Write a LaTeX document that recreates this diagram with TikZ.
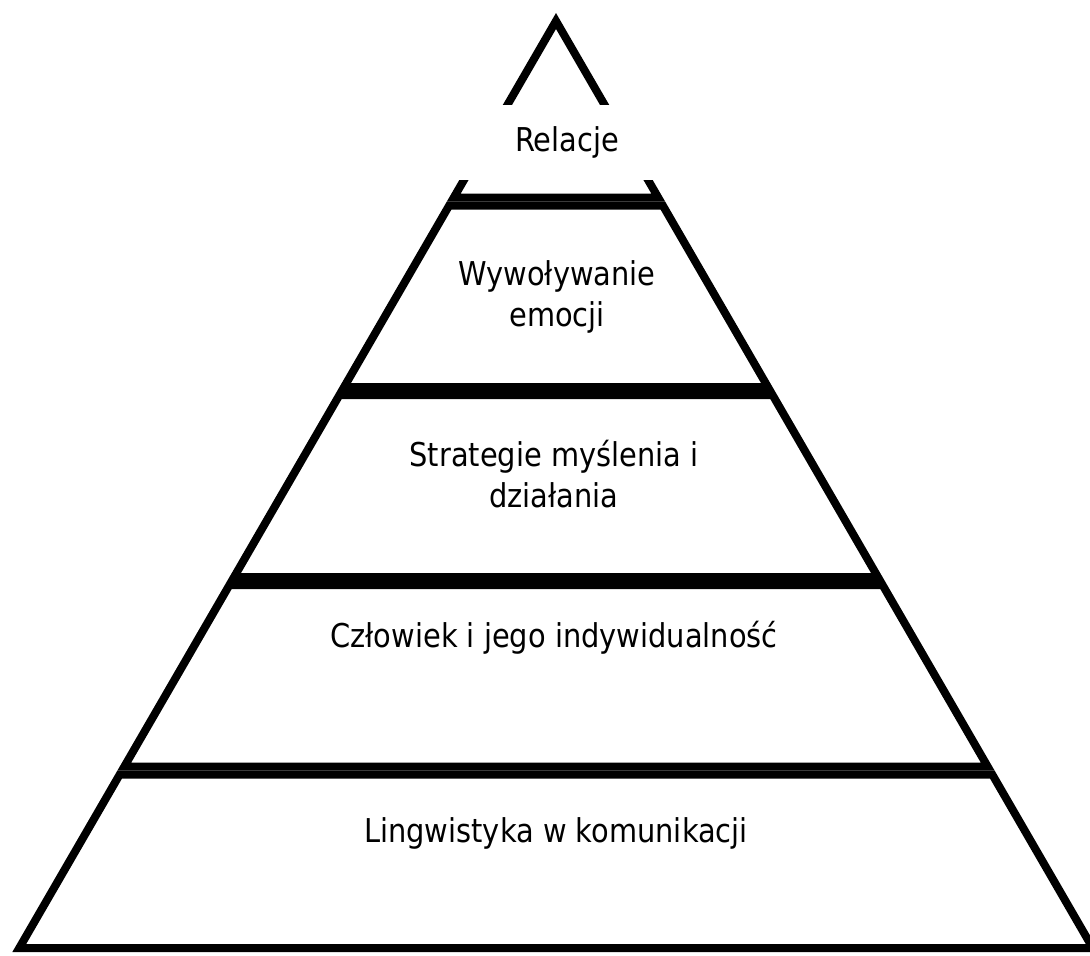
\documentclass[tikz,border=0pt]{standalone}
\usepackage{fontspec}
\setmainfont{DejaVu Sans}[FakeStretch=0.88]

\begin{document}
\begin{tikzpicture}[x=0.75pt,y=-0.75pt,
  pyrlayer/.style={line width=6pt,line join=miter},
  pyrtext/.style={font=\fontsize{24.6}{30.75}\selectfont,align=center}]
\useasboundingbox (0,0) rectangle (1090,956);
\draw[pyrlayer] (556,21) -- (658.2,197.5) -- (453.8,197.5) -- cycle;
\foreach \ya/\yb in {205.5/387,395/577,585/766.5,774.5/948}{
  \pgfmathsetmacro\wa{(\ya-21)*0.579}
  \pgfmathsetmacro\wb{(\yb-21)*0.579}
  \draw[pyrlayer] (556-\wa,\ya) -- (556+\wa,\ya) -- (556+\wb,\yb) -- (556-\wb,\yb) -- cycle;
}
\node[pyrtext,fill=white,minimum width=172.5pt,minimum height=56.25pt] (relacje) at (567,142.5) {Relacje};
\node[pyrtext] (emocje) at (557,297) {Wywoływanie\\emocji};
\node[pyrtext] (strategie) at (554,474.5) {Strategie myślenia i\\działania};
\node[pyrtext,anchor=base] (czlowiek) at (554,647) {Człowiek i jego indywidualność};
\node[pyrtext,anchor=base] (lingwistyka) at (556,842) {Lingwistyka w komunikacji};
\end{tikzpicture}
\end{document}
